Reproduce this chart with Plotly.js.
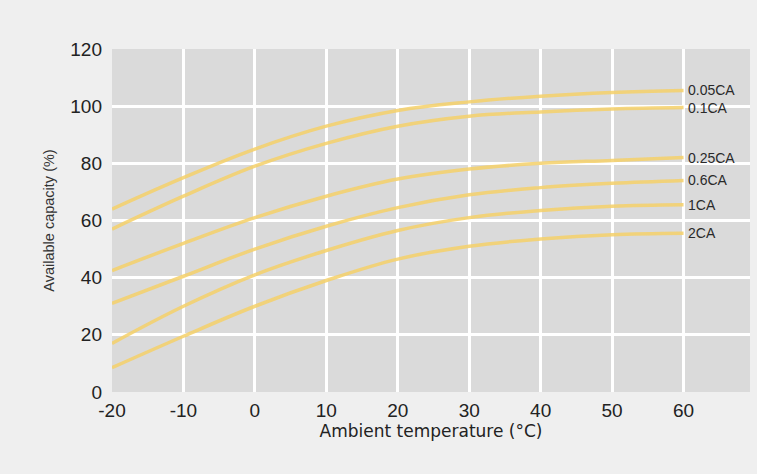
<!DOCTYPE html>
<html>
<head>
<meta charset="utf-8">
<script src="https://cdn.plot.ly/plotly-3.0.1.min.js"></script>
<style>html,body{margin:0;padding:0;background:#efefef;}#chart{width:757px;height:474px;}</style>
</head>
<body>
<div id="chart"></div>
<script>
const temps = [-20, -10, 0, 10, 20, 30, 40, 50, 60];
const seriesNames = ['0.05CA', '0.1CA', '0.25CA', '0.6CA', '1CA', '2CA'];
const cap005 = [64, 75, 85, 93, 98.5, 101.5, 103.5, 104.8, 105.5];
const cap01  = [57, 68.5, 79, 87, 93, 96.5, 98, 99, 99.5];
const cap025 = [42.5, 52, 61, 68.5, 74.5, 78, 80, 81, 82];
const cap06  = [31, 40.5, 50, 58, 64.5, 69, 71.5, 73, 74];
const cap1   = [17, 30, 41, 49.5, 56.5, 61, 63.5, 65, 65.5];
const cap2   = [8.5, 19.5, 30, 39, 46.5, 51, 53.5, 55, 55.5];
const xTicks = [-20, -10, 0, 10, 20, 30, 40, 50, 60];
const yTicks = [0, 20, 40, 60, 80, 100, 120];

const allSeries = [cap005, cap01, cap025, cap06, cap1, cap2];

const traces = allSeries.map((ys, i) => ({
  x: temps, y: ys, name: seriesNames[i], type: 'scatter', mode: 'lines',
  line: {color: 'rgba(244,208,105,0.85)', width: 3.5, shape: 'spline', smoothing: 1.1},
  hoverinfo: 'skip', showlegend: false
}));

const annotations = allSeries.map((ys, i) => ({
  x: temps[temps.length - 1], y: ys[ys.length - 1], xref: 'x', yref: 'y',
  text: seriesNames[i], showarrow: false, xanchor: 'left', yanchor: 'middle',
  xshift: 2, font: {family: 'Liberation Sans, Arial, sans-serif', size: 14, color: '#2a2a2a'}
}));

const layout = {
  width: 757, height: 474,
  paper_bgcolor: '#efefef', plot_bgcolor: '#dadada',
  margin: {l: 112, r: 7, t: 49, b: 82},
  showlegend: false,
  xaxis: {
    range: [-20, 69.3], tickvals: xTicks, ticktext: xTicks.map(String),
    showgrid: true, gridcolor: '#ffffff', gridwidth: 3, zeroline: false,
    showline: false, ticks: '', ticklabelstandoff: 5,
    tickfont: {family: 'Liberation Sans, Arial, sans-serif', size: 19, color: '#222'},
    title: {text: 'Ambient temperature (°C)', standoff: 0,
      font: {family: 'DejaVu Sans, sans-serif', size: 17, color: '#222'}},
    automargin: false
  },
  yaxis: {
    range: [0, 120], tickvals: yTicks, ticktext: yTicks.map(String),
    showgrid: true, gridcolor: '#ffffff', gridwidth: 3, zeroline: false,
    showline: false, ticks: '', ticklabelstandoff: 9,
    tickfont: {family: 'Liberation Sans, Arial, sans-serif', size: 19, color: '#222'},
    title: {text: 'Available capacity (%)', standoff: 12,
      font: {family: 'Liberation Sans, Arial, sans-serif', size: 14.5, color: '#333'}},
    automargin: false
  },
  annotations: annotations
};

Plotly.newPlot('chart', traces, layout, {displayModeBar: false, staticPlot: true});
</script>
</body>
</html>
